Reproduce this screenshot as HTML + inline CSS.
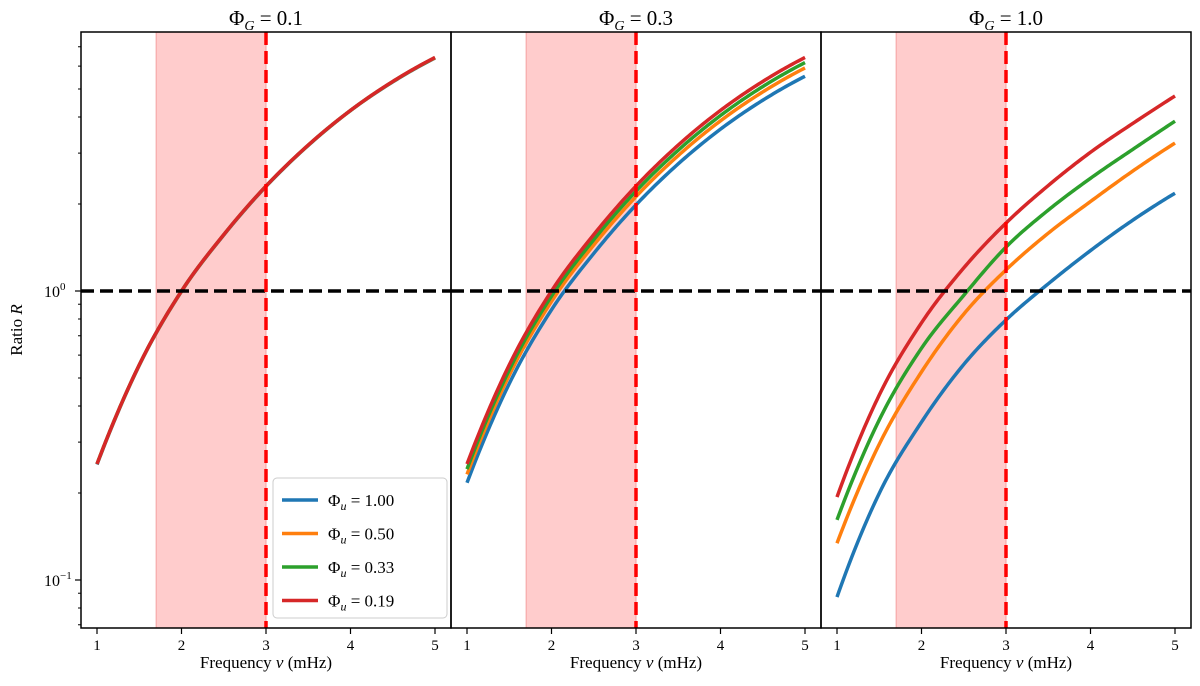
<!DOCTYPE html>
<html><head><meta charset="utf-8"><style>
body{margin:0;background:#fff}
svg{display:block;font-family:"Liberation Serif",serif}
</style></head><body>
<svg id="chart" width="1200" height="686" viewBox="0 0 1200 686"></svg>
<script>
const freqs=[1,1.5,2,2.5,3,3.5,4,4.5,5];
const seriesLabels=["1.00","0.50","0.33","0.19"];
const colors=["#1f77b4","#ff7f0e","#2ca02c","#d62728"];
const panelTitles=["0.1","0.3","1.0"];
const p1Blue=[0.251,0.553,0.997,1.562,2.30,3.19,4.21,5.29,6.40];
const p1Orange=[0.252,0.554,0.998,1.565,2.305,3.195,4.213,5.30,6.41];
const p1Green=[0.252,0.555,1.0,1.566,2.306,3.197,4.215,5.305,6.42];
const p1Red=[0.252,0.555,1.0,1.567,2.307,3.199,4.217,5.309,6.427];
const p2Blue=[0.217,0.478,0.861,1.349,1.986,2.754,3.631,4.571,5.534];
const p2Orange=[0.232,0.511,0.92,1.442,2.122,2.943,3.88,4.884,5.913];
const p2Green=[0.242,0.533,0.96,1.504,2.215,3.071,4.048,5.097,6.17];
const p2Red=[0.252,0.555,1.0,1.567,2.307,3.199,4.217,5.309,6.427];
const p3Blue=[0.0873,0.1995,0.352,0.557,0.794,1.059,1.380,1.758,2.18];
const p3Orange=[0.134,0.295,0.525,0.832,1.183,1.585,2.04,2.6,3.25];
const p3Green=[0.1614,0.358,0.634,0.966,1.419,1.905,2.455,3.09,3.87];
const p3Red=[0.1936,0.4365,0.776,1.202,1.718,2.317,3.02,3.8,4.73];
const panelData=[[p1Blue,p1Orange,p1Green,p1Red],[p2Blue,p2Orange,p2Green,p2Red],[p3Blue,p3Orange,p3Green,p3Red]];
const xTicks=[1,2,3,4,5];
const bandStart=1.7, bandEnd=3.0, refLine=3.0, unity=1.0;

const NS="http://www.w3.org/2000/svg";
const svg=document.getElementById('chart');
function el(tag,attrs,parent){const e=document.createElementNS(NS,tag);for(const k in attrs)e.setAttribute(k,attrs[k]);(parent||svg).appendChild(e);return e;}
const plotTop=32,plotBottom=628;
const panelsX=[81,451,821],pw=370;
function yScale(v){return 291-289*Math.log10(v);}
function xScaleFor(i){const x0=panelsX[i]+16;return v=>x0+(v-1)*84.5;}

[0.07,0.08,0.09,0.2,0.3,0.4,0.5,0.6,0.7,0.8,0.9,2,3,4,5,6,7].forEach(v=>{
  const y=yScale(v);if(y<plotTop||y>plotBottom)return;
  const t=el('line',{x1:78,x2:81,y1:y,y2:y,stroke:'#000','stroke-width':1});
  
  
});
[[1,"0"],[0.1,"−1"]].forEach(([v,e])=>{
  const y=yScale(v);
  const t=el('line',{x1:75,x2:81,y1:y,y2:y,stroke:'#000','stroke-width':1.2});
  
  
  const tx=el('text',{x:44,y:y+6,'font-size':16});
  
  
  tx.innerHTML='10<tspan dy="-7" font-size="11">'+e+'</tspan>';
});
const yl=el('text',{x:22,y:330,'font-size':17,'text-anchor':'middle',transform:'rotate(-90 22 330)'});


yl.innerHTML='Ratio <tspan font-style="italic">R</tspan>';

// cubic Hermite with 3-point derivative estimates (curved at ends)
function hermite(xsArr,ysArr){
  const n=xsArr.length,m=[];
  for(let i=0;i<n;i++){
    if(i===0){const h=xsArr[1]-xsArr[0];m[i]=(-3*ysArr[0]+4*ysArr[1]-ysArr[2])/(2*h);}
    else if(i===n-1){const h=xsArr[n-1]-xsArr[n-2];m[i]=(3*ysArr[n-1]-4*ysArr[n-2]+ysArr[n-3])/(2*h);}
    else m[i]=(ysArr[i+1]-ysArr[i-1])/(xsArr[i+1]-xsArr[i-1]);
  }
  return x=>{let j=0;while(j<n-2&&x>xsArr[j+1])j++;
    const h=xsArr[j+1]-xsArr[j],t=(x-xsArr[j])/h,t2=t*t,t3=t2*t;
    return (2*t3-3*t2+1)*ysArr[j]+(t3-2*t2+t)*h*m[j]+(-2*t3+3*t2)*ysArr[j+1]+(t3-t2)*h*m[j+1];};
}

panelData.forEach((series,i)=>{
  const xs=xScaleFor(i),x0=panelsX[i];
  const g=el('g',{});
  
  
  const clipId='clip'+i;
  const cp=el('clipPath',{id:clipId},g);el('rect',{x:x0,y:plotTop,width:pw,height:plotBottom-plotTop},cp);
  const band=el('rect',{x:xs(bandStart),y:plotTop,width:xs(bandEnd)-xs(bandStart),height:plotBottom-plotTop,fill:'#ffcccc',stroke:'#f4a0a0','stroke-width':1},g);
  
  
  const lg=el('g',{'clip-path':'url(#'+clipId+')'},g);
  series.forEach((vals,k)=>{
    const f=hermite(freqs,vals.map(v=>Math.log10(v)));
    let d='';
    for(let s=0;s<=160;s++){
      const fx=freqs[0]+(freqs[freqs.length-1]-freqs[0])*s/160;
      const px=xs(fx),py=yScale(Math.pow(10,f(fx)));
      d+=(s?'L':'M')+px.toFixed(2)+','+py.toFixed(2);
    }
    const p=el('path',{d:d,fill:'none',stroke:colors[k],'stroke-width':3.5,'stroke-linejoin':'round'},lg);
    
    
  });
  const h=el('line',{x1:x0,x2:x0+pw,y1:yScale(unity),y2:yScale(unity),stroke:'#000','stroke-width':3.5,'stroke-dasharray':'13,6'},g);
  
  
  const v=el('line',{x1:xs(refLine),x2:xs(refLine),y1:plotTop,y2:plotBottom,stroke:'#ff0000','stroke-width':3.5,'stroke-dasharray':'13,6'},g);
  
  
  const fr=el('rect',{x:x0,y:plotTop,width:pw,height:plotBottom-plotTop,fill:'none',stroke:'#000','stroke-width':1.5},g);
  
  
  xTicks.forEach(t=>{
    const tk=el('line',{x1:xs(t),x2:xs(t),y1:plotBottom,y2:plotBottom+6,stroke:'#000','stroke-width':1.2},g);
    
    
    const tl=el('text',{x:xs(t),y:plotBottom+22,'font-size':15,'text-anchor':'middle'},g);
    
    
    tl.textContent=t;
  });
  const xl=el('text',{x:x0+pw/2,y:668,'font-size':17,'text-anchor':'middle'},g);
  
  
  xl.innerHTML='Frequency <tspan font-style="italic">ν</tspan> (mHz)';
  const tt=el('text',{x:x0+pw/2,y:25,'font-size':21,'text-anchor':'middle'},g);
  
  
  tt.innerHTML='Φ<tspan dy="5" font-size="14" font-style="italic">G</tspan><tspan dy="-5"> = '+panelTitles[i]+'</tspan>';
});

const lgd=el('g',{});


el('rect',{x:273,y:478,width:174,height:140,rx:4,fill:'#fff','fill-opacity':0.9,stroke:'#ccc','stroke-width':1},lgd);
seriesLabels.forEach((s,k)=>{
  const y=500+k*33.5;
  const e=el('g',{},lgd);
  
  
  el('line',{x1:282,x2:318,y1:y,y2:y,stroke:colors[k],'stroke-width':3.5},e);
  const t=el('text',{x:328,y:y+6,'font-size':17},e);
  t.innerHTML='Φ<tspan dy="4" font-size="12" font-style="italic">u</tspan><tspan dy="-4"> = '+s+'</tspan>';
});
</script>
</body></html>
